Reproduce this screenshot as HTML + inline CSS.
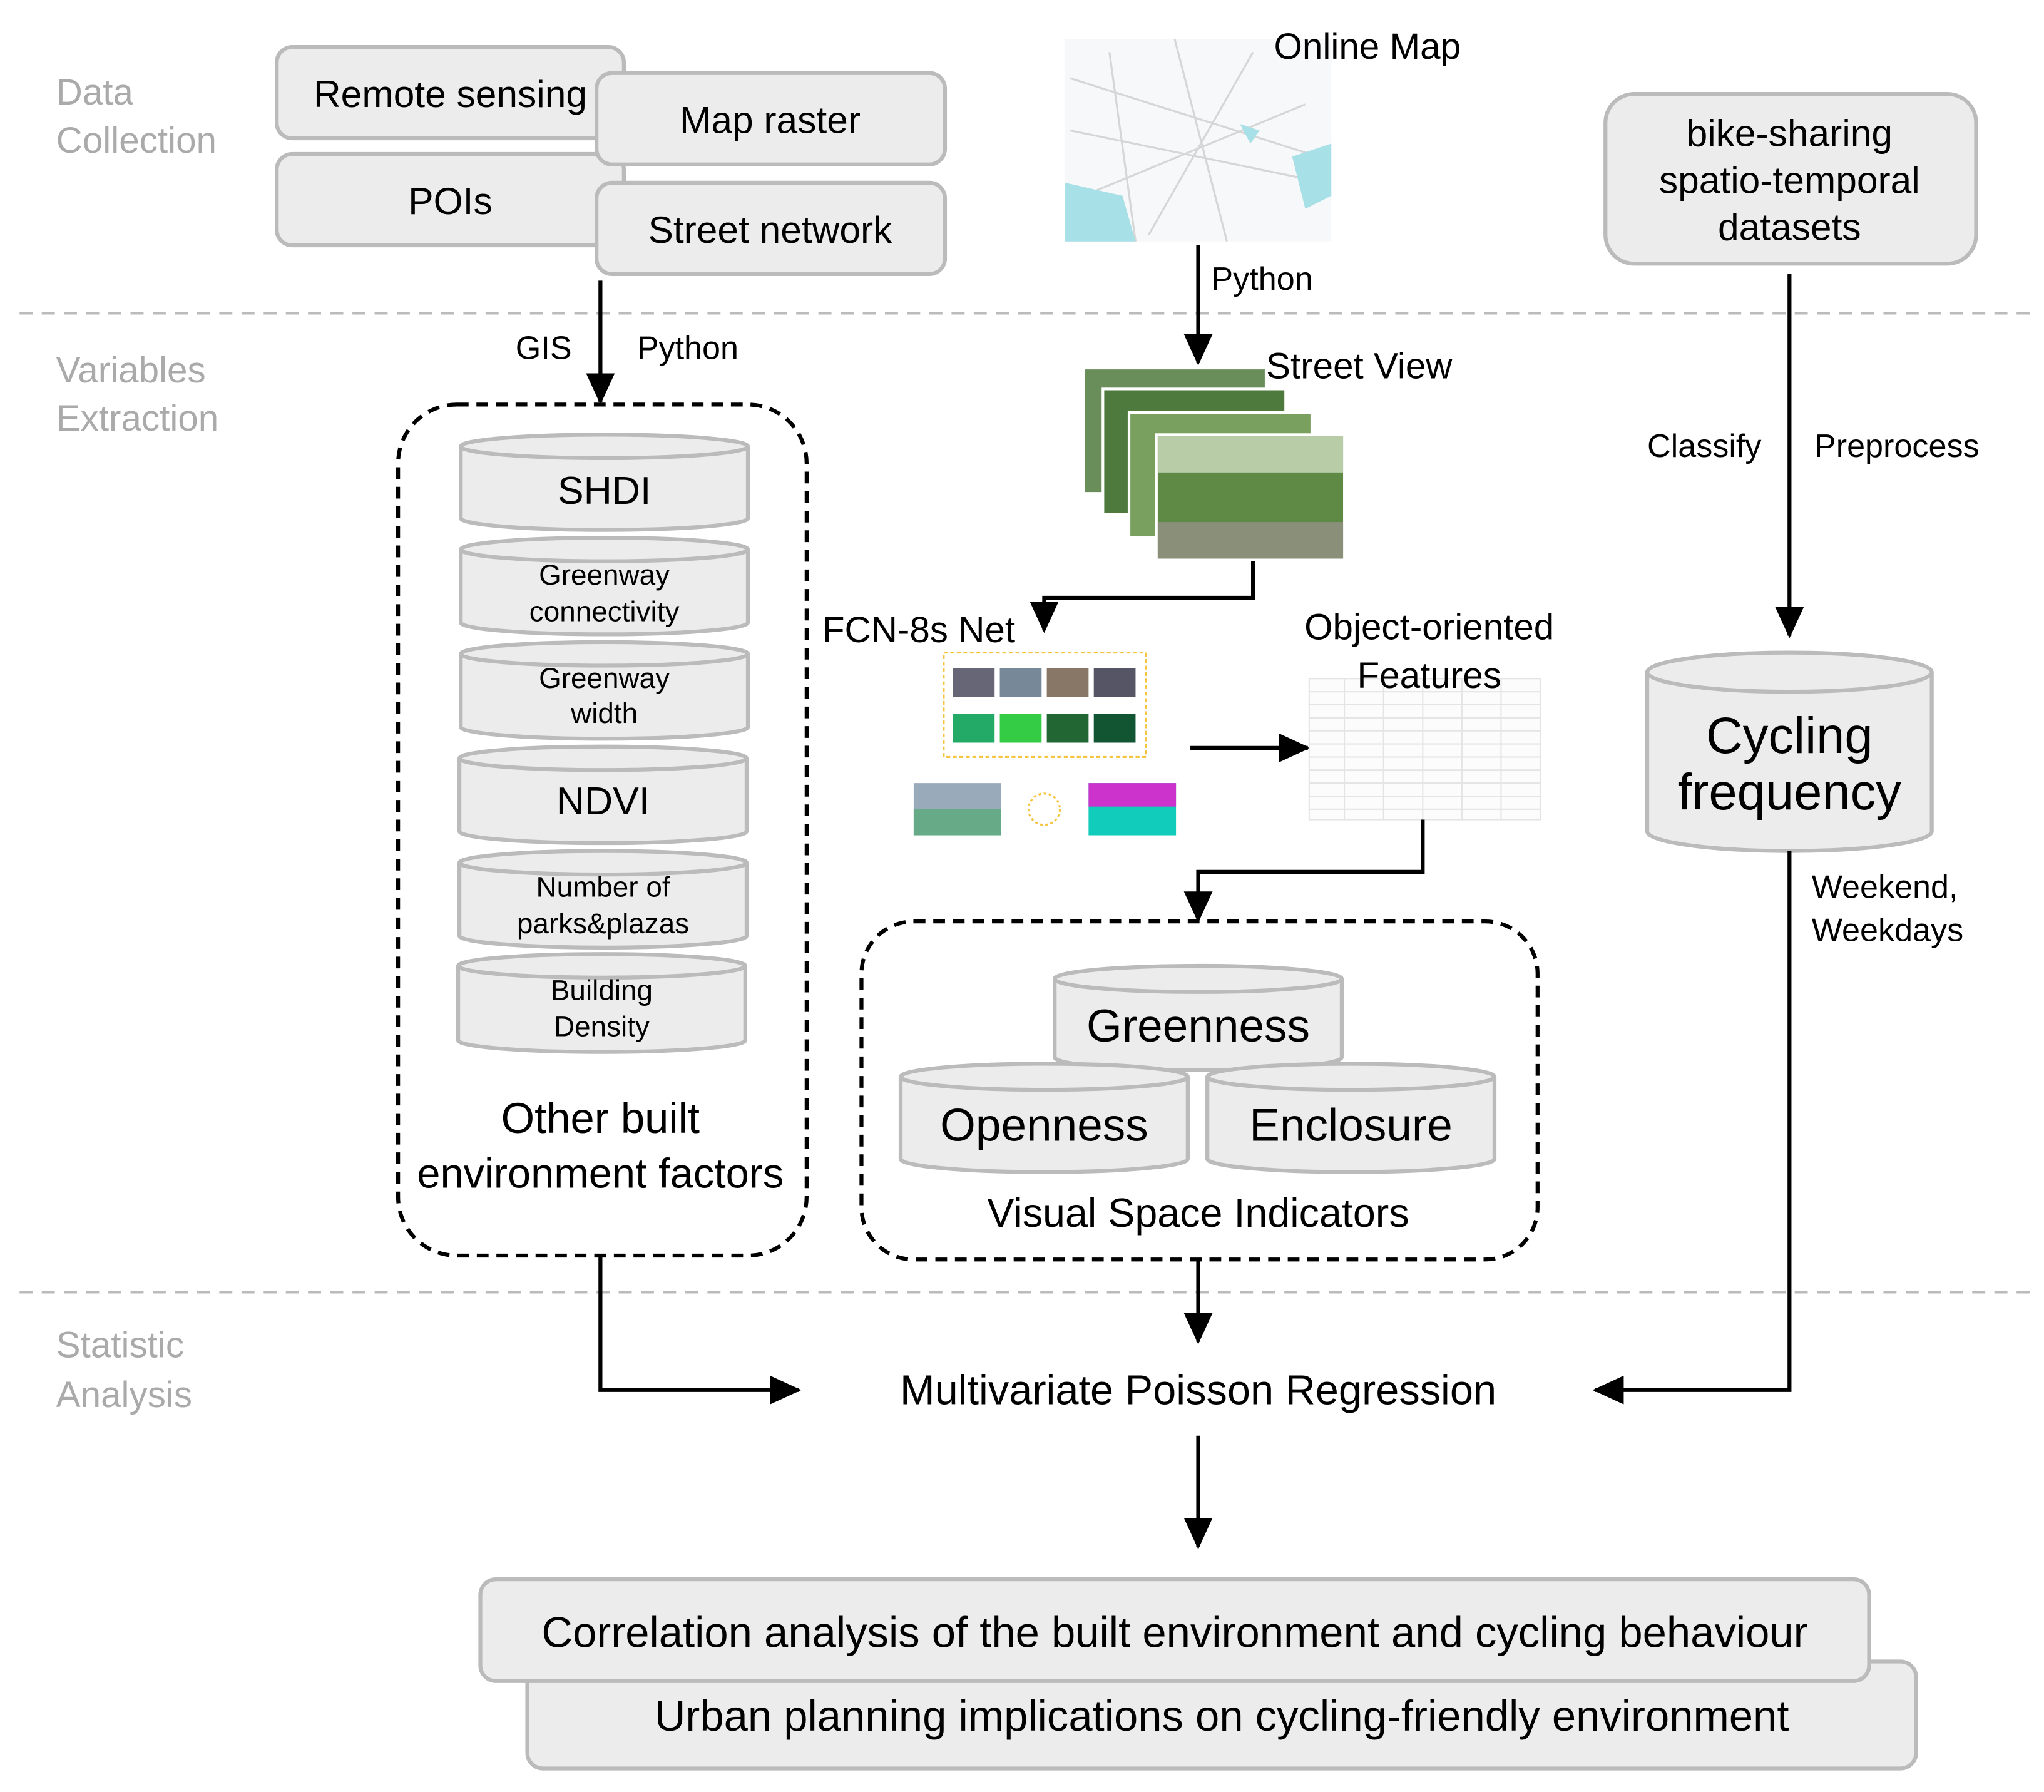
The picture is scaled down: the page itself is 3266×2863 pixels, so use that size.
<!DOCTYPE html>
<html><head><meta charset="utf-8"><style>html,body{margin:0;padding:0;background:#fff}svg{display:block}text{font-family:"Liberation Sans",sans-serif}</style></head><body>
<svg width="3266" height="2863" viewBox="0 0 1566 1373" preserveAspectRatio="none" xmlns="http://www.w3.org/2000/svg">
<defs>
<marker id="b" markerWidth="24" markerHeight="22" refX="22" refY="11" orient="auto" markerUnits="userSpaceOnUse"><path d="M0,0 L24,11 L0,22 z" fill="#000"/></marker>
</defs>
<g stroke="#bbb" stroke-width="2" stroke-dasharray="10,7"><line x1="15" y1="240" x2="1555" y2="240"/><line x1="15" y1="990" x2="1555" y2="990"/></g>
<g fill="#aaa" font-size="28"><text x="43" y="80">Data</text><text x="43" y="117">Collection</text><text x="43" y="293">Variables</text><text x="43" y="330">Extraction</text><text x="43" y="1040">Statistic</text><text x="43" y="1078">Analysis</text></g>
<g fill="#ececec" stroke="#bbb" stroke-width="3">
<rect x="212" y="36" width="266" height="70" rx="12"/><rect x="212" y="118" width="266" height="70" rx="12"/>
<rect x="457" y="56" width="267" height="70" rx="12"/><rect x="457" y="140" width="267" height="70" rx="12"/>
<rect x="1230" y="72" width="284" height="130" rx="22"/>
<rect x="404" y="1273" width="1064" height="82" rx="12"/><rect x="368" y="1210" width="1064" height="78" rx="12"/>
</g>
<g font-size="29" text-anchor="middle" fill="#000">
<text x="345" y="82">Remote sensing</text><text x="345" y="164">POIs</text><text x="590" y="102">Map raster</text><text x="590" y="186">Street network</text>
<text x="1371" y="112">bike-sharing</text><text x="1371" y="148">spatio-temporal</text><text x="1371" y="184">datasets</text>
<text x="900" y="1262" font-size="33">Correlation analysis of the built environment and cycling behaviour</text>
<text x="936" y="1326" font-size="33">Urban planning implications on cycling-friendly environment</text>
</g>
<rect x="816" y="30" width="204" height="155" fill="#f7f8f9"/>
<g stroke="#d6d6d6" stroke-width="1.5" fill="none"><path d="M820,60 L1010,120 M830,150 L1000,80 M900,30 L940,185 M960,40 L880,180 M820,100 L1015,140 M850,40 L870,185"/></g>
<path d="M816,140 L860,150 L870,185 L816,185 z" fill="#a8e0e8"/><path d="M990,120 L1020,110 L1020,150 L1000,160 z" fill="#a8e0e8"/><path d="M950,95 L965,100 L958,110z" fill="#a8e0e8"/>
<text x="976" y="45" font-size="28">Online Map</text>
<line x1="918" y1="188" x2="918" y2="278" stroke="#000" stroke-width="3" marker-end="url(#b)"/>
<text x="928" y="222" font-size="25">Python</text>
<text x="970" y="290" font-size="28">Street View</text>
<g stroke="#fff" stroke-width="2"><rect x="830" y="282" width="140" height="96" fill="#6a8e5a"/><rect x="845" y="298" width="140" height="96" fill="#4f7a3e"/><rect x="865" y="316" width="140" height="96" fill="#7aa060"/><rect x="886" y="333" width="144" height="96" fill="#5f8a45"/></g>
<rect x="887" y="334" width="142" height="28" fill="#b8cca8"/><rect x="887" y="400" width="142" height="28" fill="#8a8f7a"/>
<path d="M960,430 V458 H800 V483" stroke="#000" stroke-width="3" fill="none" marker-end="url(#b)"/>
<text x="630" y="492" font-size="28">FCN-8s Net</text>
<rect x="723" y="500" width="155" height="80" fill="#fff" stroke="#f5c542" stroke-width="1.5" stroke-dasharray="3,2"/>
<g><rect x="730" y="512" width="32" height="22" fill="#667"/><rect x="766" y="512" width="32" height="22" fill="#789"/><rect x="802" y="512" width="32" height="22" fill="#876"/><rect x="838" y="512" width="32" height="22" fill="#556"/>
<rect x="730" y="547" width="32" height="22" fill="#2a6"/><rect x="766" y="547" width="32" height="22" fill="#3c4"/><rect x="802" y="547" width="32" height="22" fill="#263"/><rect x="838" y="547" width="32" height="22" fill="#153"/>
<rect x="700" y="600" width="67" height="40" fill="#9ab"/><rect x="700" y="620" width="67" height="20" fill="#6a8"/><rect x="834" y="600" width="67" height="40" fill="#1cb"/><rect x="834" y="600" width="67" height="18" fill="#c3c"/></g>
<circle cx="800" cy="620" r="12" fill="none" stroke="#f5c542" stroke-width="1.5" stroke-dasharray="2,2"/>
<line x1="912" y1="573" x2="1002" y2="573" stroke="#000" stroke-width="3" marker-end="url(#b)"/>
<g stroke="#e4e4e4" stroke-width="1"><rect x="1003" y="520" width="177" height="108" fill="#fcfcfc"/><path d="M1003,530H1180M1003,540H1180M1003,550H1180M1003,560H1180M1003,570H1180M1003,580H1180M1003,590H1180M1003,600H1180M1003,610H1180M1003,620H1180M1030,520V628M1060,520V628M1090,520V628M1120,520V628M1150,520V628"/></g>
<text x="1095" y="490" font-size="28" text-anchor="middle">Object-oriented</text><text x="1095" y="527" font-size="28" text-anchor="middle">Features</text>
<path d="M1090,628 V668 H918 V705" stroke="#000" stroke-width="3" fill="none" marker-end="url(#b)"/>
<rect x="660" y="706" width="518" height="259" rx="40" fill="none" stroke="#000" stroke-width="3" stroke-dasharray="9,6"/>
<g fill="#ececec" stroke="#bbb" stroke-width="3">
<path d="M808,750 V810 A110,10 0 0 0 1028,810 V750"/><ellipse cx="918" cy="750" rx="110" ry="10"/>
<path d="M690,825 V888 A110,10 0 0 0 910,888 V825"/><ellipse cx="800" cy="825" rx="110" ry="10"/>
<path d="M925,825 V888 A110,10 0 0 0 1145,888 V825"/><ellipse cx="1035" cy="825" rx="110" ry="10"/>
</g>
<g font-size="35" text-anchor="middle"><text x="918" y="798">Greenness</text><text x="800" y="874">Openness</text><text x="1035" y="874">Enclosure</text></g>
<text x="918" y="940" font-size="31" text-anchor="middle">Visual Space Indicators</text>
<line x1="460" y1="215" x2="460" y2="308" stroke="#000" stroke-width="3" marker-end="url(#b)"/>
<text x="395" y="275" font-size="25">GIS</text><text x="488" y="275" font-size="25">Python</text>
<rect x="305" y="310" width="313" height="652" rx="45" fill="none" stroke="#000" stroke-width="3" stroke-dasharray="9,6"/>
<g fill="#ececec" stroke="#bbb" stroke-width="3">
<path d="M353,342 V397 A110,9 0 0 0 573,397 V342"/><ellipse cx="463" cy="342" rx="110" ry="9"/>
<path d="M353,421 V477 A110,9 0 0 0 573,477 V421"/><ellipse cx="463" cy="421" rx="110" ry="9"/>
<path d="M353,501 V557 A110,9 0 0 0 573,557 V501"/><ellipse cx="463" cy="501" rx="110" ry="9"/>
<path d="M352,581 V637 A110,9 0 0 0 572,637 V581"/><ellipse cx="462" cy="581" rx="110" ry="9"/>
<path d="M352,661 V717 A110,9 0 0 0 572,717 V661"/><ellipse cx="462" cy="661" rx="110" ry="9"/>
<path d="M351,740 V797 A110,9 0 0 0 571,797 V740"/><ellipse cx="461" cy="740" rx="110" ry="9"/>
</g>
<g text-anchor="middle" font-size="22">
<text x="463" y="386" font-size="30">SHDI</text>
<text x="463" y="448">Greenway</text><text x="463" y="476">connectivity</text>
<text x="463" y="527">Greenway</text><text x="463" y="554">width</text>
<text x="462" y="624" font-size="30">NDVI</text>
<text x="462" y="687">Number of</text><text x="462" y="715">parks&amp;plazas</text>
<text x="461" y="766">Building</text><text x="461" y="794">Density</text>
<text x="460" y="868" font-size="33">Other built</text><text x="460" y="910" font-size="32">environment factors</text>
</g>
<line x1="1371" y1="210" x2="1371" y2="487" stroke="#000" stroke-width="3" marker-end="url(#b)"/>
<text x="1262" y="350" font-size="25">Classify</text><text x="1390" y="350" font-size="25">Preprocess</text>
<g fill="#ececec" stroke="#bbb" stroke-width="3"><path d="M1262,515 V637 A109,15 0 0 0 1480,637 V515"/><ellipse cx="1371" cy="515" rx="109" ry="15"/></g>
<text x="1371" y="577" font-size="39" text-anchor="middle">Cycling</text><text x="1371" y="620" font-size="39" text-anchor="middle">frequency</text>
<path d="M1371,652 V1065 H1222" stroke="#000" stroke-width="3" fill="none" marker-end="url(#b)"/>
<text x="1388" y="688" font-size="25">Weekend,</text><text x="1388" y="721" font-size="25">Weekdays</text>
<path d="M460,962 V1065 H612" stroke="#000" stroke-width="3" fill="none" marker-end="url(#b)"/>
<line x1="918" y1="965" x2="918" y2="1028" stroke="#000" stroke-width="3" marker-end="url(#b)"/>
<text x="918" y="1076" font-size="32" text-anchor="middle">Multivariate Poisson Regression</text>
<line x1="918" y1="1100" x2="918" y2="1185" stroke="#000" stroke-width="3" marker-end="url(#b)"/>
</svg>
</body></html>
